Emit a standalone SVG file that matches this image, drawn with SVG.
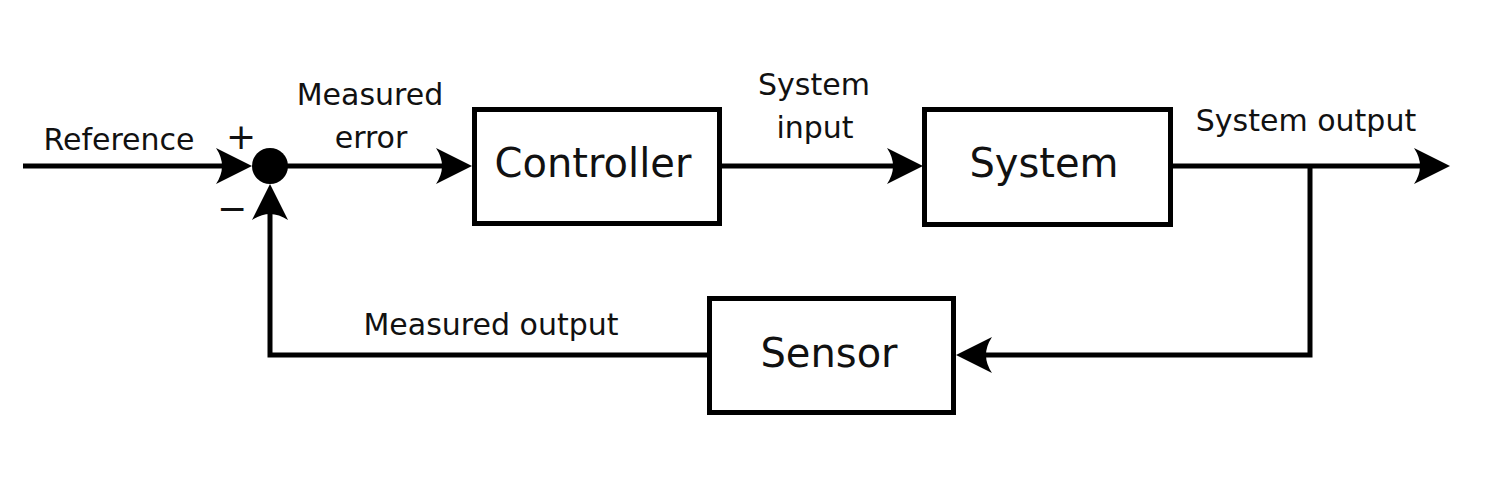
<svg xmlns="http://www.w3.org/2000/svg" width="1500" height="500" viewBox="0 0 1500 500">
  <style>
    .box { fill: #fff; stroke: #000; stroke-width: 5; }
    .wire { fill: none; stroke: #000; stroke-width: 5; stroke-linejoin: miter; }
    .lbl { font-family: "DejaVu Sans", "Liberation Sans", sans-serif; font-size: 30px; fill: #111; text-anchor: middle; }
    .big { font-family: "DejaVu Sans", "Liberation Sans", sans-serif; font-size: 40px; fill: #111; text-anchor: middle; }
    .sign { font-family: "DejaVu Sans", "Liberation Sans", sans-serif; font-size: 36px; fill: #111; text-anchor: middle; }
  </style>
  <defs>
    <marker id="arr" markerUnits="userSpaceOnUse" orient="auto" refX="0" refY="0" markerWidth="60" markerHeight="60" overflow="visible">
      <path d="M26,0 L-10,-18 Q2,0 -10,18 Z" fill="#000"/>
    </marker>
  </defs>
  <rect width="1500" height="500" fill="#fff"/>

  <g id="connectors">
    <path class="wire" d="M23,166 H226" marker-end="url(#arr)"/>
    <path class="wire" d="M270,166 H446" marker-end="url(#arr)"/>
    <path class="wire" d="M722,166 H897" marker-end="url(#arr)"/>
    <path class="wire" d="M1172,166 H1424" marker-end="url(#arr)"/>
    <path class="wire" d="M1310,164 V355 H982" marker-end="url(#arr)"/>
    <path class="wire" d="M708,355 H270 V210" marker-end="url(#arr)"/>
  </g>

  <g id="sum">
    <circle cx="270" cy="166" r="18" fill="#000"/>
    <text class="sign" x="241" y="149">+</text>
    <text class="sign" x="232" y="221">−</text>
  </g>

  <g id="controller">
    <rect class="box" x="474.5" y="109.5" width="245" height="114"/>
    <text class="big" x="593" y="177">Controller</text>
  </g>

  <g id="system">
    <rect class="box" x="924.5" y="109.5" width="246" height="115"/>
    <text class="big" x="1044" y="177">System</text>
  </g>

  <g id="sensor">
    <rect class="box" x="709.5" y="298.5" width="244" height="114"/>
    <text class="big" x="829" y="367">Sensor</text>
  </g>

  <g id="labels">
    <text class="lbl" x="119" y="150">Reference</text>
    <text class="lbl" x="370" y="105">Measured</text>
    <text class="lbl" x="371" y="148">error</text>
    <text class="lbl" x="814" y="95">System</text>
    <text class="lbl" x="815" y="138">input</text>
    <text class="lbl" x="1306" y="131">System output</text>
    <text class="lbl" x="491" y="335">Measured output</text>
  </g>
</svg>
